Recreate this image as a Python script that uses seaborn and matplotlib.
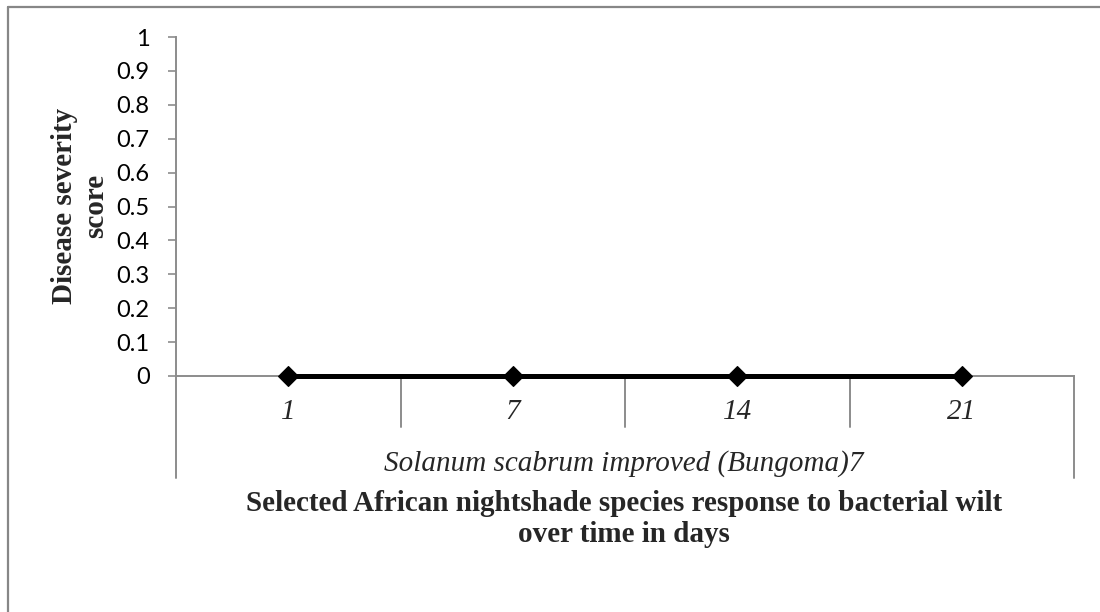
import matplotlib
matplotlib.use("Agg")
import matplotlib.pyplot as plt
import matplotlib.transforms as mtransforms
from matplotlib.lines import Line2D
import seaborn as sns
import pandas as pd

# Data
days = ["1", "7", "14", "21"]
severity = [0, 0, 0, 0]
y_ticks = [0, 0.1, 0.2, 0.3, 0.4, 0.5, 0.6, 0.7, 0.8, 0.9, 1]
group_label = "Solanum scabrum improved (Bungoma)7"
x_title_lines = ["Selected African nightshade species response to bacterial wilt",
                 "over time in days"]
y_title_lines = ["Disease severity", "score"]

sns.set_theme(style="white")
plt.rcParams["font.family"] = ["Lato", "DejaVu Sans"]

W, H = 1100, 612
fig = plt.figure(figsize=(W / 100, H / 100), dpi=100)
fig.patch.set_facecolor("white")


def fx(px):
    return px / W


def fy(py):
    return 1 - py / H


serif = ["Liberation Serif", "DejaVu Serif"]
grey = "#8c8c8c"

left, right, top, bottom = 176, 1074, 37, 376
ax = fig.add_axes([fx(left), fy(bottom), fx(right - left), (bottom - top) / H])

df = pd.DataFrame({"day": days, "score": severity})
sns.pointplot(data=df, x="day", y="score", color="black", markers="D",
              linestyles="-", errorbar=None, ax=ax,
              markersize=10, linewidth=3.6)
for ln in ax.lines:
    ln.set_clip_on(False)
    ln.set_zorder(5)
    ln.set_markeredgewidth(0.8)

ax.set_xlim(-0.5, len(days) - 0.5)
ax.set_ylim(0, 1)
ax.set_yticks(y_ticks)
ax.set_yticklabels([f"{v:g}" for v in y_ticks], fontsize=17)
ax.tick_params(axis="y", direction="out", length=6, width=1.2, color=grey,
               pad=13, left=True, labelcolor="black")
ax.set_xlabel("")
ax.set_ylabel("")

for side in ["top", "right"]:
    ax.spines[side].set_visible(False)
for side in ["left", "bottom"]:
    ax.spines[side].set_color(grey)
    ax.spines[side].set_linewidth(1.4)

# Category labels, drawn at each category position
ax.set_xticks(range(len(days)))
ax.set_xticklabels([])
ax.tick_params(axis="x", length=0)
trans = mtransforms.blended_transform_factory(ax.transData, ax.transAxes)
span = bottom - top
for i, d in enumerate(days):
    ax.text(i, -(419 - bottom) / span, d, transform=trans, ha="center",
            va="baseline", fontsize=21, fontstyle="italic", family=serif)

# Category divider lines below the axis
sep_depth = -(427 - bottom) / span
outer_depth = -(478 - bottom) / span
for xpos in [i + 0.5 for i in range(len(days) - 1)]:
    ax.add_line(Line2D([xpos, xpos], [0, sep_depth], transform=trans,
                       color=grey, lw=1.4, clip_on=False))
for xpos in [-0.5, len(days) - 0.5]:
    ax.add_line(Line2D([xpos, xpos], [0, outer_depth], transform=trans,
                       color=grey, lw=1.4, clip_on=False))

# Group label
fig.text(fx(624), fy(471), group_label, ha="center", va="baseline",
         fontsize=21, fontstyle="italic", family=serif)

# Axis titles
for line, base in zip(x_title_lines, [511, 542]):
    fig.text(fx(624), fy(base), line, ha="center", va="baseline",
             fontsize=21, fontweight="bold", family=serif)
for line, base in zip(y_title_lines, [72, 103]):
    fig.text(fx(base), fy(206), line, ha="center", va="baseline",
             rotation=90, rotation_mode="anchor",
             fontsize=21, fontweight="bold", family=serif)

# Chart area border (left and top edges)
fig.add_artist(Line2D([fx(8), fx(8)], [fy(7), 0], transform=fig.transFigure,
                      color="#878787", lw=1.6))
fig.add_artist(Line2D([fx(8), 1], [fy(7), fy(7)], transform=fig.transFigure,
                      color="#878787", lw=1.6))

fig.savefig("out.png", dpi=100)
